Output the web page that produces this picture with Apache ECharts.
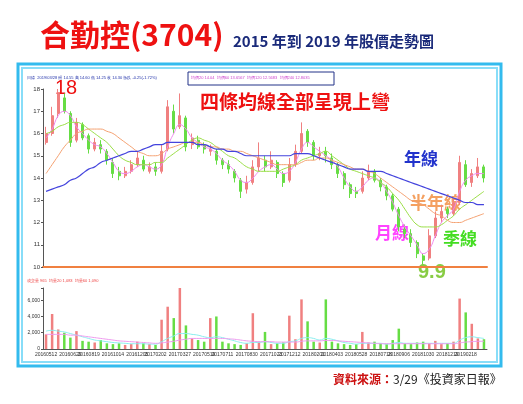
<!DOCTYPE html><html><head><meta charset="utf-8"><script src="https://cdn.jsdelivr.net/npm/echarts@6/dist/echarts.min.js"></script>
<style>body{margin:0;background:#fff}#c{width:523px;height:404px}</style></head><body><div id="c"></div><script>
const closes=[16.0,16.8,17.8,17.0,15.6,16.5,15.8,15.3,15.6,15.3,14.8,14.2,14.1,14.3,14.6,14.9,14.4,14.5,14.3,15.2,17.2,16.2,16.8,15.4,15.8,15.4,15.3,15.3,14.8,14.6,14.4,14.0,13.4,13.8,14.5,14.9,14.5,14.8,14.2,13.8,14.6,15.2,16.0,15.6,15.0,15.1,15.0,14.6,14.2,13.7,13.3,13.3,14.0,14.3,13.9,13.6,13.2,12.6,11.8,11.5,11.1,10.6,10.3,11.4,12.2,12.5,12.4,12.9,14.7,13.7,14.2,14.5,14.0];
const opens=[15.6,16.0,16.9,17.6,16.9,15.7,16.4,15.9,15.3,15.5,15.2,14.7,14.3,14.1,14.3,14.6,14.8,14.3,14.5,14.3,15.3,17.0,16.3,16.7,15.5,15.7,15.5,15.2,15.2,14.8,14.6,14.3,13.9,13.5,13.8,14.5,14.8,14.5,14.7,14.2,13.9,14.6,15.2,16.1,15.6,15.0,15.2,14.9,14.6,14.2,13.7,13.4,13.4,14.0,14.3,13.9,13.6,13.2,12.6,11.7,11.5,11.1,10.5,10.4,11.4,12.2,12.6,12.4,12.9,14.6,13.8,14.1,14.5];
const highs=[16.3,17.2,18.0,17.8,17.0,16.7,16.5,16.0,15.8,15.7,15.3,14.9,14.5,14.5,14.8,15.2,15.0,14.7,14.7,15.5,17.5,17.3,17.8,16.8,16.0,15.9,15.6,15.5,15.3,14.9,14.8,14.4,14.0,14.1,14.8,15.6,15.0,15.2,14.8,14.3,14.9,15.5,16.5,16.2,15.7,15.4,15.4,15.1,14.7,14.3,13.8,13.6,14.3,14.6,14.4,14.0,13.7,13.3,12.7,11.9,11.7,11.2,10.6,11.7,12.5,12.8,12.7,13.1,15.0,14.8,14.4,14.9,14.6];
const lows=[15.5,15.9,16.7,16.9,15.4,15.6,15.7,15.1,15.2,15.1,14.6,14.0,13.9,14.0,14.2,14.5,14.3,14.2,14.1,14.2,15.2,16.0,16.2,15.2,15.3,15.3,15.1,15.0,14.6,14.4,14.2,13.8,13.1,13.3,13.7,14.3,14.3,14.4,14.0,13.6,13.8,14.5,15.1,15.4,14.8,14.8,14.7,14.4,14.0,13.5,13.1,13.1,13.3,13.9,13.8,13.4,13.0,12.5,11.6,11.3,10.9,10.4,10.1,10.3,11.3,12.0,12.2,12.3,12.8,13.6,13.6,14.0,13.8];
const ma20=[15.8,16.2,16.8,17.0,16.8,16.3,16.0,15.7,15.5,15.4,15.1,14.7,14.3,14.2,14.3,14.5,14.6,14.5,14.4,14.6,15.4,16.0,16.4,16.2,15.8,15.6,15.4,15.3,15.1,14.8,14.6,14.3,13.9,13.8,14.0,14.3,14.5,14.6,14.4,14.2,14.3,14.7,15.3,15.6,15.4,15.2,15.0,14.8,14.5,14.0,13.6,13.4,13.6,13.9,14.0,13.8,13.4,12.9,12.3,11.8,11.4,11.0,10.6,10.8,11.4,12.0,12.3,12.6,13.4,13.9,14.1,14.2,14.2];
const ma60=[16.0,16.1,16.3,16.4,16.5,16.5,16.4,16.2,16.0,15.8,15.6,15.3,15.0,14.8,14.7,14.6,14.6,14.6,14.7,14.7,14.9,15.1,15.3,15.5,15.7,15.8,15.7,15.6,15.4,15.2,15.0,14.9,14.7,14.5,14.4,14.3,14.3,14.3,14.3,14.4,14.5,14.6,14.8,14.9,15.0,15.1,15.2,15.0,14.8,14.6,14.4,14.3,14.2,14.1,14.0,13.8,13.6,13.3,13.0,12.6,12.2,11.9,11.8,11.8,11.8,11.9,12.1,12.3,12.6,12.8,13.0,13.2,13.4];
const ma120=[14.2,14.6,15.0,15.4,15.7,16.0,16.1,16.2,16.2,16.2,16.1,16.0,15.8,15.6,15.4,15.2,15.1,15.0,15.0,15.1,15.3,15.4,15.5,15.6,15.6,15.6,15.5,15.4,15.4,15.3,15.3,15.2,15.2,15.1,15.0,14.9,14.8,14.7,14.6,14.6,14.6,14.6,14.7,14.8,14.8,14.9,14.9,14.8,14.7,14.6,14.5,14.4,14.4,14.3,14.2,14.0,13.8,13.6,13.4,13.2,13.0,12.9,12.8,12.6,12.4,12.3,12.1,12.0,12.0,12.1,12.2,12.3,12.4];
const ma240=[13.4,13.5,13.6,13.7,13.9,14.0,14.2,14.4,14.5,14.7,14.8,14.9,15.0,15.1,15.2,15.2,15.3,15.4,15.5,15.5,15.6,15.6,15.6,15.6,15.6,15.5,15.5,15.4,15.3,15.3,15.2,15.2,15.1,15.0,15.0,15.0,15.0,15.0,15.0,15.0,15.0,15.1,15.1,15.1,15.0,14.9,14.8,14.7,14.6,14.5,14.4,14.4,14.4,14.3,14.3,14.3,14.2,14.1,14.0,13.9,13.8,13.7,13.6,13.5,13.4,13.3,13.2,13.1,13.0,12.9,12.9,12.8,12.8];
const volumes=[1800,4300,2400,2000,1400,2200,1000,900,800,1100,700,600,700,500,600,900,700,600,500,3600,5200,3800,7500,2900,1300,1100,900,3800,4000,900,700,600,500,700,4400,900,2100,600,700,800,4100,1200,6100,3400,900,800,6100,900,700,600,500,600,2100,800,900,700,600,1100,2500,700,600,800,900,700,1000,600,700,900,6200,4500,3100,1300,1200];
const vma20=[2200,2300,2200,2100,1900,1700,1500,1300,1100,1000,900,800,750,700,650,650,650,600,600,900,1300,1600,1900,1900,1800,1700,1500,1400,1500,1400,1200,1000,800,700,800,800,900,800,700,700,900,1000,1300,1400,1300,1100,1300,1200,1000,800,700,600,700,700,700,700,600,700,800,700,700,700,700,700,700,700,700,700,1100,1400,1500,1400,1300];
const vma60=[1800,1800,1800,1800,1700,1700,1600,1500,1400,1300,1200,1100,1000,950,900,850,800,750,700,750,850,950,1100,1200,1300,1300,1300,1300,1300,1300,1250,1200,1100,1000,950,900,900,900,850,850,850,850,950,1000,1000,1000,1050,1050,1000,950,900,850,800,750,700,650,650,650,650,650,650,650,650,650,650,650,650,650,750,850,900,950,950];
const tickLabels=['20160512','20160629','20160819','20161014','20161205','20170202','20170327','20170519','20170711','20170830','20171023','20171212','20180201','20180403','20180528','20180718','20180906','20181030','20181219','20190218'];
const cats=closes.map((c,i)=>i);
const step=closes.length/tickLabels.length;
const up='#f08080',dn='#66dd44';
const ch=echarts.init(document.getElementById('c'));
const lab=v=>{const k=Math.round(v/step);return Math.abs(v-Math.round(k*step))<0.5&&k<tickLabels.length?tickLabels[k]:'';};
ch.setOption({animation:false,
grid:[{left:43,right:36,top:89,height:178},{left:43,right:36,top:288,height:61}],
xAxis:[{type:'category',data:cats,gridIndex:0,axisLabel:{show:false},axisTick:{show:false},axisLine:{lineStyle:{color:'#f08040',width:2}},boundaryGap:true},
{type:'category',data:cats,gridIndex:1,axisTick:{show:false},axisLine:{lineStyle:{color:'#555'}},axisLabel:{interval:0,formatter:(v,i)=>lab(i),fontSize:5,color:'#333',margin:3}}],
yAxis:[{gridIndex:0,min:10,max:18,interval:1,splitLine:{show:false},axisLine:{show:true,lineStyle:{color:'#555'}},axisTick:{show:true,length:2},axisLabel:{fontSize:6,color:'#333',margin:3}},
{gridIndex:1,min:0,max:7500,interval:2000,splitLine:{show:false},axisLine:{show:true,lineStyle:{color:'#555'}},axisTick:{show:true,length:2},axisLabel:{fontSize:5,color:'#333',margin:3,formatter:v=>v>6000?'':v.toLocaleString('en-US')}}],
series:[
{type:'candlestick',xAxisIndex:0,yAxisIndex:0,barWidth:2.5,data:closes.map((c,i)=>[opens[i],c,lows[i],highs[i]]),itemStyle:{color:up,color0:dn,borderColor:up,borderColor0:dn}},
{type:'line',data:ma20,smooth:true,symbol:'none',lineStyle:{color:'#ee88ee',width:1}},
{type:'line',data:ma60,smooth:true,symbol:'none',lineStyle:{color:'#99dd44',width:1}},
{type:'line',data:ma120,smooth:true,symbol:'none',lineStyle:{color:'#f4a070',width:1}},
{type:'line',data:ma240,smooth:true,symbol:'none',lineStyle:{color:'#4444dd',width:1.2}},
{type:'bar',xAxisIndex:1,yAxisIndex:1,barWidth:2.5,data:volumes.map((v,i)=>({value:v,itemStyle:{color:closes[i]>=opens[i]?up:dn}}))},
{type:'line',xAxisIndex:1,yAxisIndex:1,data:vma20,smooth:true,symbol:'none',lineStyle:{color:'#88eeee',width:1}},
{type:'line',xAxisIndex:1,yAxisIndex:1,data:vma60,smooth:true,symbol:'none',lineStyle:{color:'#ee99ee',width:1}}
],
graphic:[
{type:'rect',shape:{x:18,y:64,width:483,height:302},style:{fill:'none',stroke:'#33bbee',lineWidth:3}},
{type:'rect',shape:{x:22,y:68,width:475,height:294},style:{fill:'none',stroke:'#88ddf8',lineWidth:2}},
{type:'text',left:40,top:20,style:{text:'合勤控(3704)',fill:'#ee1111',font:'bold 30px "Noto Sans CJK TC"'}},
{type:'text',left:233,top:34,style:{text:'2015 年到 2019 年股價走勢圖',fill:'#1a2a7a',font:'bold 15px "Noto Sans CJK TC"'}},
{type:'text',left:27,top:76,style:{text:'日線  2019/03/28 開 14.55 高 14.60 低 14.25 收 14.30 漲跌 -0.25(-1.72%)',fill:'#2233aa',font:'4px sans-serif'}},
{type:'rect',shape:{x:188,y:72,width:146,height:13},style:{fill:'none',stroke:'#223388',lineWidth:1}},
{type:'text',left:191,top:76,style:{text:'均價20 14.04  均價60 13.6567  均價120 12.5683  均價240 12.8035',fill:'#cc44cc',font:'4px sans-serif'}},
{type:'text',left:55,top:78,style:{text:'18',fill:'#ee1111',font:'20px sans-serif'}},
{type:'text',left:200,top:92,style:{text:'四條均線全部呈現上彎',fill:'#ee1111',font:'bold 19px "Noto Sans CJK TC"'}},
{type:'text',left:404,top:150,style:{text:'年線',fill:'#2233cc',font:'bold 17px "Noto Sans CJK TC"'}},
{type:'text',left:410,top:194,style:{text:'半年線',fill:'#f4a060',font:'bold 17px "Noto Sans CJK TC"'}},
{type:'text',left:375,top:224,style:{text:'月線',fill:'#ff44ff',font:'bold 17px "Noto Sans CJK TC"'}},
{type:'text',left:443,top:230,style:{text:'季線',fill:'#44dd22',font:'bold 17px "Noto Sans CJK TC"'}},
{type:'text',left:418,top:262,style:{text:'9.9',fill:'#88cc44',font:'bold 20px sans-serif'}},
{type:'text',left:27,top:279,style:{text:'成交量 965  均量20 1,083  均量60 1,090',fill:'#ee4444',font:'4px sans-serif'}},
{type:'text',left:333,top:373,style:{rich:{a:{fill:'#cc1111',font:'bold 12px "Noto Sans CJK TC"'},b:{fill:'#222',font:'12px "Noto Sans CJK TC"'}},text:'{a|資料來源：}{b|3/29《投資家日報》}'}}
]});
</script></body></html>
